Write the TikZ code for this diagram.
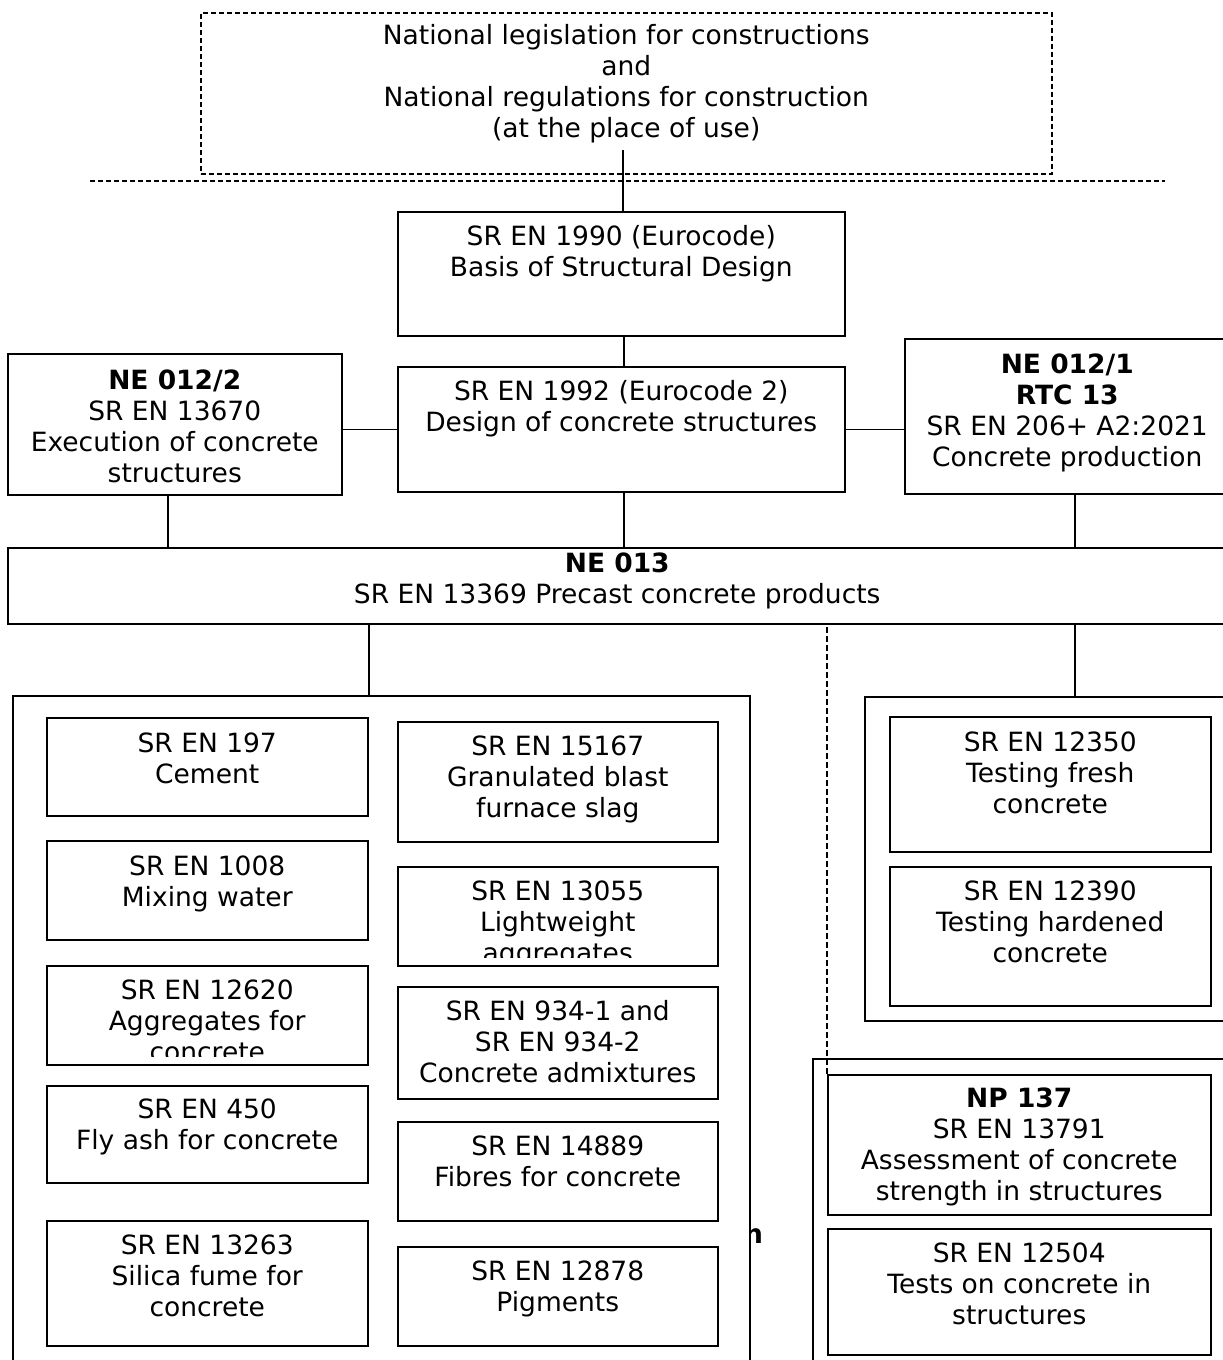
\documentclass[tikz,border=0pt]{standalone}
\usepackage{fontspec}
\setmainfont{DejaVu Sans}
\usetikzlibrary{positioning}

\tikzset{
  frame/.style={rectangle, draw, line width=1.5pt, inner sep=0pt, anchor=north west},
  txt/.style={align=center, anchor=base, inner sep=0pt, font=\fontsize{26.5}{31}\selectfont},
  link/.style={line width=1.5pt},
  dashlink/.style={line width=1.5pt, dash pattern=on 6pt off 3pt},
}

\begin{document}
\begin{tikzpicture}[x=1pt, y=-1pt]

\useasboundingbox (0,0) rectangle (1223,1360);
\clip (0,0) rectangle (1223,1360);

% legislation on top
\node (law) [frame, dash pattern=on 5pt off 3pt, minimum width=851pt, minimum height=161pt] at (200,12) {};
\node (lawtxt) [txt, yshift=-125.5pt] at (law.north)
{National legislation for constructions\\and\\National regulations for construction\\(at the place of use)};
\coordinate (lawdrop) at (623,150);
\draw[dashlink, dash pattern=on 5pt off 3pt] (90,181) -- (1165,181);

% eurocodes
\node (b1990) [frame, minimum width=447pt, minimum height=124pt] at (397,211) {};
\node (t1990) [txt, yshift=-65.5pt] at (b1990.north) {SR EN 1990 (Eurocode)\\Basis of Structural Design};

\node (b1992) [frame, minimum width=447pt, minimum height=125pt] at (397,366) {};
\node (t1992) [txt, yshift=-65.5pt] at (b1992.north) {SR EN 1992 (Eurocode 2)\\Design of concrete structures};

\node (ne2) [frame, minimum width=334pt, minimum height=141pt] at (7,353) {};
\node (tne2) [txt, yshift=-129pt] at (ne2.north)
{\textbf{NE 012/2}\\SR EN 13670\\Execution of concrete\\structures};

\node (ne1) [frame, minimum width=325pt, minimum height=155pt] at (904,338) {};
\node (tne1) [txt, yshift=-128pt] at (ne1.north)
{\textbf{NE 012/1}\\\textbf{RTC 13}\\SR EN 206+ A2:2021\\Concrete production};

\node (ne13) [frame, minimum width=1219pt, minimum height=76pt] at (7,547) {};
\node (tne13) [txt, yshift=-56.5pt] at (ne13.north) {\textbf{NE 013}\\SR EN 13369 Precast concrete products};

% constituent materials
\node (stray) [txt, anchor=base west, font=\fontsize{26.5}{31}\selectfont\bfseries] at (744,1243) {n};
\node (mat) [frame, fill=white, minimum width=737pt, minimum height=700pt] at (12,695) {};

\node (c197) [frame, minimum width=321pt, minimum height=98pt] at (46,717) {};
\node (x197) [txt, yshift=-66pt] at (c197.north) {SR EN 197\\Cement};

\node (c1008) [frame, minimum width=321pt, minimum height=99pt] at (46,840) {};
\node (x1008) [txt, yshift=-66.5pt] at (c1008.north) {SR EN 1008\\Mixing water};

\node (c12620) [frame, minimum width=321pt, minimum height=99pt] at (46,965) {};
\begin{scope}
\clip ([yshift=9pt]c12620.south west) rectangle (c12620.north east);
\node (x12620) [txt, yshift=-96.5pt] at (c12620.north) {SR EN 12620\\Aggregates for\\concrete};
\end{scope}

\node (c450) [frame, minimum width=321pt, minimum height=97pt] at (46,1085) {};
\node (x450) [txt, yshift=-64.5pt] at (c450.north) {SR EN 450\\Fly ash for concrete};

\node (c13263) [frame, minimum width=321pt, minimum height=125pt] at (46,1220) {};
\node (x13263) [txt, yshift=-96.5pt] at (c13263.north) {SR EN 13263\\Silica fume for\\concrete};

\node (c15167) [frame, minimum width=320pt, minimum height=120pt] at (397,721) {};
\node (x15167) [txt, yshift=-96.5pt] at (c15167.north) {SR EN 15167\\Granulated blast\\furnace slag};

\node (c13055) [frame, minimum width=320pt, minimum height=99pt] at (397,866) {};
\begin{scope}
\clip ([yshift=9pt]c13055.south west) rectangle (c13055.north east);
\node (x13055) [txt, yshift=-96.5pt] at (c13055.north) {SR EN 13055\\Lightweight\\aggregates};
\end{scope}

\node (c934) [frame, minimum width=320pt, minimum height=112pt] at (397,986) {};
\node (x934) [txt, yshift=-96.5pt] at (c934.north) {SR EN 934-1 and\\SR EN 934-2\\Concrete admixtures};

\node (c14889) [frame, minimum width=320pt, minimum height=99pt] at (397,1121) {};
\node (x14889) [txt, yshift=-65.5pt] at (c14889.north) {SR EN 14889\\Fibres for concrete};

\node (c12878) [frame, minimum width=320pt, minimum height=99pt] at (397,1246) {};
\node (x12878) [txt, yshift=-65.5pt] at (c12878.north) {SR EN 12878\\Pigments};

% testing of concrete
\node (tst) [frame, minimum width=371pt, minimum height=324pt] at (864,696) {};

\node (t12350) [frame, minimum width=321pt, minimum height=135pt] at (889,716) {};
\node (y12350) [txt, yshift=-97pt] at (t12350.north) {SR EN 12350\\Testing fresh\\concrete};

\node (t12390) [frame, minimum width=321pt, minimum height=139pt] at (889,866) {};
\node (y12390) [txt, yshift=-96.5pt] at (t12390.north) {SR EN 12390\\Testing hardened\\concrete};

% concrete in structures
\node (ins) [frame, minimum width=413pt, minimum height=320pt] at (812,1058) {};

\node (np137) [frame, minimum width=383pt, minimum height=140pt] at (827,1074) {};
\node (y137) [txt, yshift=-126.5pt] at (np137.north)
{\textbf{NP 137}\\SR EN 13791\\Assessment of concrete\\strength in structures};

\node (t12504) [frame, minimum width=383pt, minimum height=126pt] at (827,1228) {};
\node (y12504) [txt, yshift=-96.5pt] at (t12504.north) {SR EN 12504\\Tests on concrete in\\structures};

% connectors
\draw[link] (lawdrop) -- (lawdrop |- b1990.north);
\draw[link] ([xshift=2.5pt]b1990.south) -- ([xshift=2.5pt]b1992.north);
\draw[link] (b1992.west) -- (b1992.west -| ne2.east);
\draw[link] (b1992.east) -- (b1992.east -| ne1.west);
\draw[link] ([xshift=-7pt]ne2.south) -- ([xshift=-7pt]ne2.south |- ne13.north);
\draw[link] ([xshift=2.5pt]b1992.south) -- ([xshift=2.5pt]b1992.south |- ne13.north);
\draw[link] ([xshift=7.5pt]ne1.south) -- ([xshift=7.5pt]ne1.south |- ne13.north);
\draw[link] ([xshift=-12.5pt]mat.north) -- ([xshift=-12.5pt]mat.north |- ne13.south);
\draw[link] ([xshift=24.5pt]tst.north) -- ([xshift=24.5pt]tst.north |- ne13.south);
\draw[dashlink] (np137.north west) -- (np137.north west |- ne13.south);

\end{tikzpicture}
\end{document}
